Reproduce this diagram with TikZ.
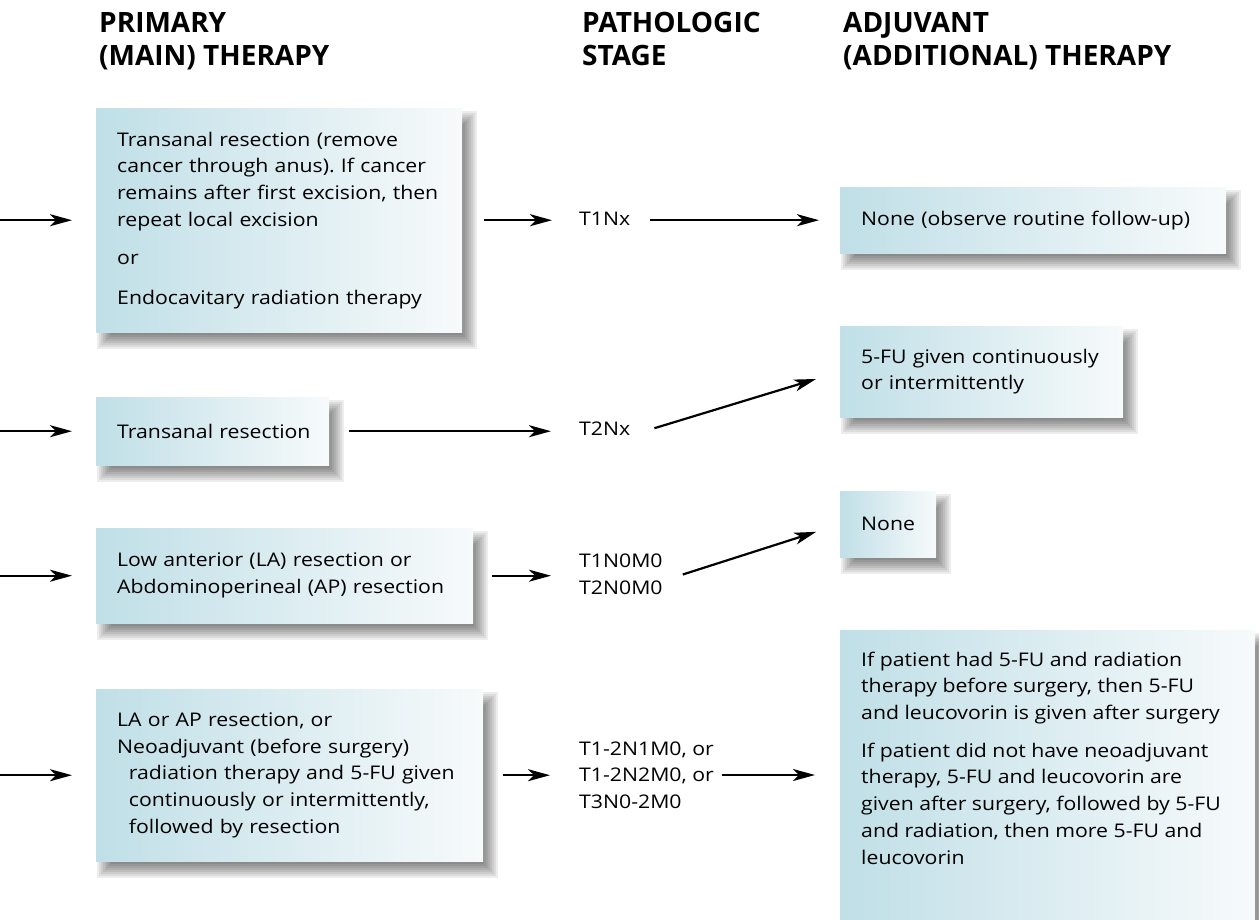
\documentclass[tikz,border=0pt]{standalone}
\usepackage{fontspec}
\usetikzlibrary{arrows.meta,calc}
\newfontfamily\bodyfamily[FakeStretch=1.13]{Open Sans}
\newfontfamily\headfamily{Open Sans}
\newcommand\bodyf{\bodyfamily\fontsize{18.8}{26.7}\selectfont\hyphenpenalty=10000 }
\newcommand\headf{\headfamily\bfseries\fontsize{28}{33}\selectfont}
\definecolor{boxl}{RGB}{192,223,231}
\definecolor{boxr}{RGB}{247,250,251}
\pgfdeclarelayer{back}
\pgfdeclarelayer{shad}
\pgfsetlayers{back,shad,main}
\frenchspacing
\tikzset{
  box/.style={anchor=north west, inner xsep=21pt, inner ysep=0pt, align=left,
    left color=boxl, right color=boxr, draw=none, font=\bodyf},
  lab/.style={inner sep=0pt, align=left, font=\bodyf},
  hd/.style={anchor=base west, inner sep=0pt, font=\headf},
  arr/.style={line width=2.2pt, -{Stealth[length=22pt,width=12pt,inset=6pt]}},
}
\newcommand\boxshadow[1]{%
  \foreach \e in {7,5,...,-7}{%
    \fill[black,opacity=0.07] ($(#1.north west)+(8-\e,10-\e)$) rectangle ($(#1.south east)+(8+\e,10+\e)$);
  }%
}
\begin{document}
\begin{tikzpicture}[x=1pt,y=-1pt]
\useasboundingbox (0,0) rectangle (1259,919);
\begin{pgfonlayer}{back}
  \fill[white] (0,0) rectangle (1259,919);
\end{pgfonlayer}
\coordinate (o) at (0,0);
% headings
\node[hd] (h1a) at (99,32) {PRIMARY};
\node[hd] (h1b) at (99,65) {(MAIN) THERAPY};
\node[hd] (h2a) at (582,32) {PATHOLOGIC};
\node[hd] (h2b) at (582,65) {STAGE};
\node[hd] (h3a) at (843,32) {ADJUVANT};
\node[hd] (h3b) at (843,65) {(ADDITIONAL) THERAPY};
% primary therapy boxes
\node[box, text width=324pt, minimum height=224pt] (b1) at (96,108)
  {Transanal resection (remove\\ cancer through anus). If cancer\\ remains after first excision, then\\ repeat local excision\\[11.3pt] or\\[13.3pt] Endocavitary radiation therapy};
\node[box, text width=191pt, minimum height=68pt] (b2) at (96,397)
  {\mbox{Transanal resection}};
\node[box, text width=335pt, minimum height=95pt] (b3) at (96,528)
  {Low anterior (LA) resection or\\ Abdominoperineal (AP) resection};
\node[box, text width=345pt, minimum height=172pt] (b4) at (96,689)
  {LA or AP resection, or\\ Neoadjuvant (before surgery)\\ \hspace*{11.7pt}radiation therapy and 5-FU given\\ \hspace*{11.7pt}continuously or intermittently,\\ \hspace*{11.7pt}followed by resection};
% adjuvant boxes
\node[box, text width=344pt, minimum height=66pt] (r1) at (840,187)
  {None (observe routine follow-up)};
\node[box, text width=241pt, minimum height=91pt] (r2) at (840,326)
  {5-FU given continuously\\ or intermittently};
\node[box, text width=54pt, minimum height=66pt] (r3) at (840,491)
  {None};
\node[box, inner ysep=21.6pt] (r4) at (840,630)
  {\parbox[t][262pt][t]{373pt}{\raggedright If patient had 5-FU and radiation\\ therapy before surgery, then 5-FU\\ and leucovorin is given after surgery\\[11pt] If patient did not have neoadjuvant\\ therapy, 5-FU and leucovorin are\\ given after surgery, followed by 5-FU\\ and radiation, then more 5-FU and\\ leucovorin}};
% stage labels
\node[lab, anchor=base west] (t1) at (579,225) {T1Nx};
\node[lab, anchor=base west] (t2) at (579,435) {T2Nx};
\node[lab, anchor=west] (t3) at (579,574.5) {T1N0M0\\T2N0M0};
\node[lab, anchor=west] (t4) at (579,775) {T1-2N1M0, or\\T1-2N2M0, or\\T3N0-2M0};
% shadows
\begin{pgfonlayer}{shad}
  \boxshadow{b1}\boxshadow{b2}\boxshadow{b3}\boxshadow{b4}
  \boxshadow{r1}\boxshadow{r2}\boxshadow{r3}\boxshadow{r4}
\end{pgfonlayer}
% incoming arrows
\draw[arr, shorten >=24pt] (b1.west -| o) -- (b1.west);
\draw[arr, shorten >=24pt] (b2.west -| o) -- (b2.west);
\draw[arr, shorten >=24pt] (b3.west -| o) -- (b3.west);
\draw[arr, shorten >=24pt] (b4.west -| o) -- (b4.west);
% primary -> stage
\draw[arr] ([xshift=22pt]b1.east) -- ([xshift=-27pt]t1.west |- b1.east);
\draw[arr] ([xshift=20pt]b2.east) -- ([xshift=-28pt]t2.west |- b2.east);
\draw[arr] ([xshift=19pt]b3.east) -- ([xshift=-28pt]t3.west |- b3.east);
\draw[arr] ([xshift=20pt]b4.east) -- ([xshift=-29pt]t4.west |- b4.east);
% stage -> adjuvant
\draw[arr] ([xshift=20pt]t1.east |- r1.west) -- ([xshift=-21pt]r1.west);
\draw[arr, shorten >=25pt] ([xshift=24pt]t2.east) -- (r2.west);
\draw[arr, shorten >=25pt] ([xshift=20pt]t3.east) -- (r3.west);
\draw[arr] ([xshift=8pt]t4.east) -- ([xshift=-25pt]r4.west |- t4.east);
\end{tikzpicture}
\end{document}
